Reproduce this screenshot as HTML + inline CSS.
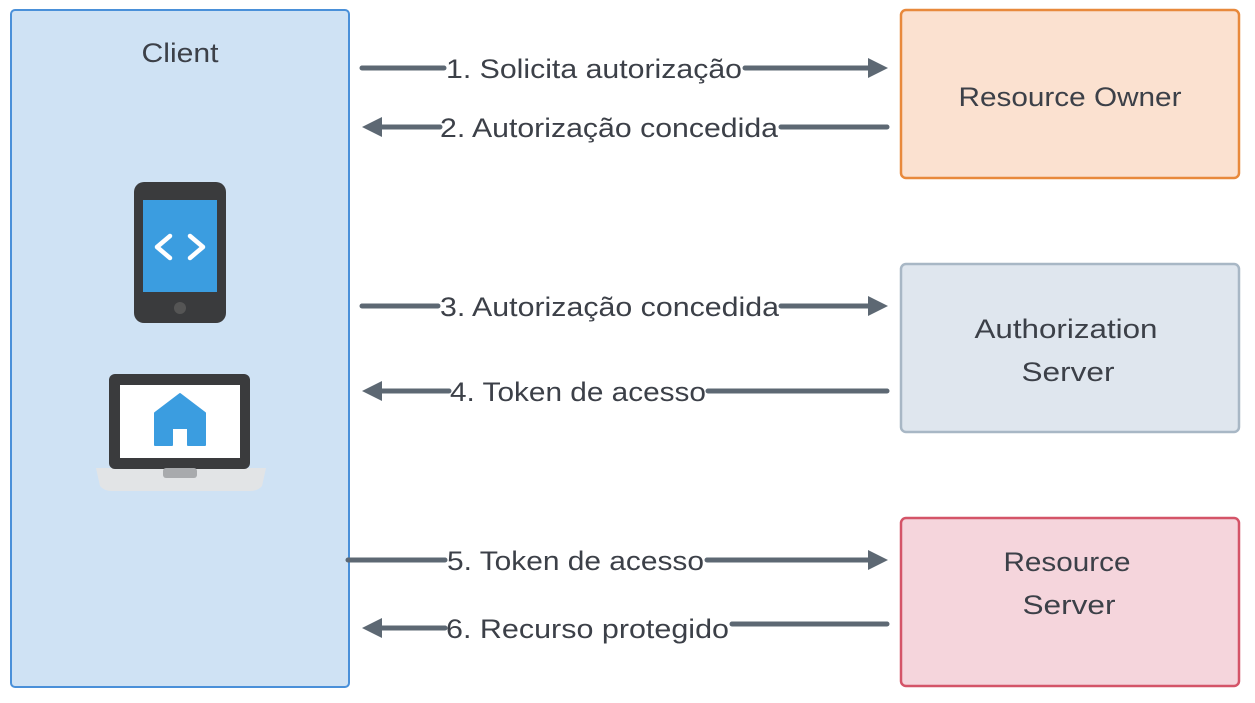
<!DOCTYPE html>
<html><head><meta charset="utf-8"><style>
html,body{margin:0;padding:0;background:#fff;width:1255px;height:703px;overflow:hidden}
text{font-family:"Liberation Sans",sans-serif;fill:#3c4048}
</style></head><body>
<svg width="1255" height="703" viewBox="0 0 1255 703" xmlns="http://www.w3.org/2000/svg">
<defs>
<marker id="ah" markerWidth="4" markerHeight="4" refX="2" refY="2" orient="auto" markerUnits="strokeWidth">
<path d="M0,0 L4,2 L0,4 z" fill="#5d6873"/></marker>
</defs>
<rect x="11" y="10" width="338" height="677" rx="4" fill="#cfe2f4" stroke="#4a90d9" stroke-width="2"/>
<rect x="901" y="10" width="338" height="168" rx="5" fill="#fbe1d0" stroke="#e8893c" stroke-width="2.5"/>
<rect x="901" y="264" width="338" height="168" rx="5" fill="#dfe6ee" stroke="#a8b7c5" stroke-width="2.5"/>
<rect x="901" y="518" width="338" height="168" rx="5" fill="#f5d5dc" stroke="#d45468" stroke-width="2.5"/>
<g font-size="27">
<text x="180" y="62" text-anchor="middle" textLength="77" lengthAdjust="spacingAndGlyphs">Client</text>
<text x="1070" y="106" text-anchor="middle" textLength="223" lengthAdjust="spacingAndGlyphs">Resource Owner</text>
<text x="1066" y="338" text-anchor="middle" textLength="183" lengthAdjust="spacingAndGlyphs">Authorization</text>
<text x="1068" y="381" text-anchor="middle" textLength="93" lengthAdjust="spacingAndGlyphs">Server</text>
<text x="1067" y="571" text-anchor="middle" textLength="127" lengthAdjust="spacingAndGlyphs">Resource</text>
<text x="1069" y="614" text-anchor="middle" textLength="93" lengthAdjust="spacingAndGlyphs">Server</text>
</g>
<rect x="134" y="182" width="92" height="141" rx="10" fill="#3a3b3d"/>
<rect x="143" y="200" width="74" height="92" fill="#3b9de0"/>
<circle cx="180" cy="308" r="6" fill="#555"/>
<path d="M170,236 L157,247 L170,258 M190,236 L203,247 L190,258" stroke="#fff" stroke-width="4.5" fill="none" stroke-linecap="round" stroke-linejoin="round"/>
<path d="M96,468 L266,468 L262,486 Q258,491 250,491 L112,491 Q104,491 100,486 Z" fill="#e2e4e6"/>
<rect x="109" y="374" width="141" height="95" rx="6" fill="#3a3b3d"/>
<rect x="120" y="385" width="120" height="73" fill="#fff"/>
<rect x="163" y="468" width="34" height="10" rx="3" fill="#a8aaad"/>
<path d="M180,394 L205,413 L205,445 L188,445 L188,428 L172,428 L172,445 L155,445 L155,413 Z" fill="#3b9de0" stroke="#3b9de0" stroke-width="2" stroke-linejoin="round"/>
<g stroke="#5d6873" stroke-width="5" stroke-linecap="round" fill="none">
<line x1="362" y1="68" x2="444" y2="68"/><line x1="745" y1="68" x2="878" y2="68" marker-end="url(#ah)"/>
<line x1="440" y1="127" x2="372" y2="127" marker-end="url(#ah)"/><line x1="781" y1="127" x2="887" y2="127"/>
<line x1="362" y1="306" x2="438" y2="306"/><line x1="781" y1="306" x2="878" y2="306" marker-end="url(#ah)"/>
<line x1="449" y1="391" x2="372" y2="391" marker-end="url(#ah)"/><line x1="708" y1="391" x2="887" y2="391"/>
<line x1="348" y1="560" x2="445" y2="560"/><line x1="707" y1="560" x2="878" y2="560" marker-end="url(#ah)"/>
<line x1="445" y1="628" x2="372" y2="628" marker-end="url(#ah)"/><line x1="732" y1="624" x2="887" y2="624"/>
</g>
<g font-size="27">
<text x="446" y="78" textLength="296" lengthAdjust="spacingAndGlyphs">1. Solicita autorização</text>
<text x="440" y="137" textLength="338" lengthAdjust="spacingAndGlyphs">2. Autorização concedida</text>
<text x="440" y="316" textLength="339" lengthAdjust="spacingAndGlyphs">3. Autorização concedida</text>
<text x="450" y="401" textLength="256" lengthAdjust="spacingAndGlyphs">4. Token de acesso</text>
<text x="447" y="570" textLength="257" lengthAdjust="spacingAndGlyphs">5. Token de acesso</text>
<text x="446" y="638" textLength="283" lengthAdjust="spacingAndGlyphs">6. Recurso protegido</text>
</g>
</svg>
</body></html>
